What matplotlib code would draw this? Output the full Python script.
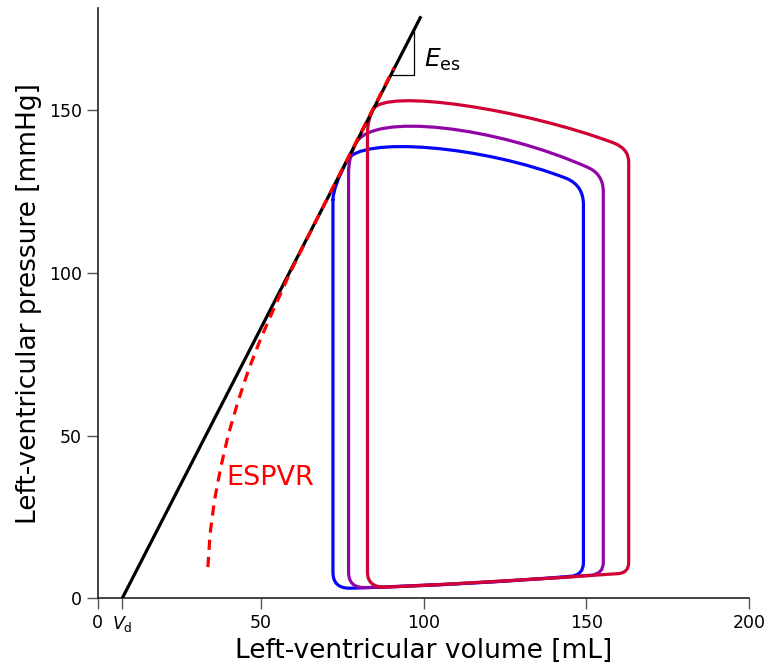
import matplotlib.pyplot as plt
from matplotlib.path import Path
from matplotlib.patches import PathPatch

# end-systolic elastance line
v_d = 7.5
e_es = 1.95
v_line_end = 99.0

# nonlinear end-systolic pressure-volume relation (dashed)
espvr_v = [33.8, 34.5, 35.8, 37.7, 40.0, 42.9, 46.2, 50.1, 54.5, 59.0, 69.0, 79.2, 90.9]
espvr_p = [9.6, 20, 30, 40, 50, 60, 70, 80, 90, 100, 120, 140, 163]

# PV loops as bezier vertices, counter-clockwise from the top of isovolumic relaxation
loop_blue_v = [72.2, 72.2, 72.2, 77.5, 115.0, 145.5, 149.1, 149.1, 149.1, 149.1, 144.0,
               118.5, 80.5, 76.5, 72.2, 72.2]
loop_blue_p = [122.5, 8.0, 3.0, 3.1, 4.2, 6.8, 7.2, 11.0, 121.0, 126.8, 129.0,
               139.0, 142.3, 134.5, 126.2, 122.5]

loop_purple_v = [77.0, 77.0, 77.0, 82.0, 118.0, 151.5, 155.2, 155.2, 155.2, 155.2, 150.5,
                 122.3, 84.2, 79.2, 77.0, 77.0]
loop_purple_p = [131.0, 8.0, 3.2, 3.3, 4.5, 7.1, 7.5, 11.0, 125.0, 130.3, 132.4,
                 145.0, 149.6, 139.8, 135.5, 131.0]

loop_red_v = [82.8, 82.8, 82.8, 88.0, 122.0, 160.0, 163.0, 163.0, 163.0, 163.0, 158.5,
              131.5, 88.0, 84.5, 82.8, 82.8]
loop_red_p = [143.0, 8.0, 3.5, 3.4, 4.9, 7.6, 7.9, 11.0, 134.0, 138.2, 139.9,
              150.1, 157.0, 150.2, 146.8, 143.0]

loop_colors = ['#0505f8', '#9006a4', '#d00035']

loop_codes = ([Path.MOVETO, Path.LINETO]
              + [Path.CURVE3] * 6
              + [Path.LINETO]
              + [Path.CURVE3] * 2
              + [Path.CURVE4] * 3
              + [Path.CURVE3] * 2)

# little slope triangle on the Ees line
tri_v = [90.0, 97.0, 97.0]
tri_p = [(90.0 - v_d) * e_es, (90.0 - v_d) * e_es, (97.0 - v_d) * e_es]

fig = plt.figure(figsize=(7.7, 6.7), dpi=100)
ax = fig.add_axes([0.127, 0.107, 0.846, 0.881])

loops = [(loop_blue_v, loop_blue_p), (loop_purple_v, loop_purple_p), (loop_red_v, loop_red_p)]
for (lv, lp), c in zip(loops, loop_colors):
    path = Path(list(zip(lv, lp)), loop_codes)
    ax.add_patch(PathPatch(path, facecolor='none', edgecolor=c, lw=2.3,
                           joinstyle='round', capstyle='round', zorder=2))

ax.plot([v_d, v_line_end], [0, (v_line_end - v_d) * e_es], color='black', lw=2.3, zorder=3)
ax.plot(espvr_v, espvr_p, color='red', lw=2.3, ls=(0, (3.2, 2.2)), zorder=4)
ax.plot(tri_v, tri_p, color='black', lw=0.9, zorder=3)

ax.text(100.3, 165.5, r'$E_\mathrm{es}$', fontsize=18, va='center', ha='left')
ax.text(39.5, 37.0, 'ESPVR', fontsize=19.5, color='red', va='center', ha='left')

ax.set_xlim(0, 200)
ax.set_ylim(0, 181.4)
ax.spines['top'].set_visible(False)
ax.spines['right'].set_visible(False)
for s in ['left', 'bottom']:
    ax.spines[s].set_linewidth(1.2)
    ax.spines[s].set_color('#222222')

ax.set_xticks([0, v_d, 50, 100, 150, 200])
ax.set_xticklabels(['0', r'$V_\mathrm{d}$', '50', '100', '150', '200'])
ax.set_yticks([0, 50, 100, 150])
ax.tick_params(labelsize=12.5, length=8, width=1, color='#555555')

ax.set_xlabel('Left-ventricular volume [mL]', fontsize=19, labelpad=3)
ax.set_ylabel('Left-ventricular pressure [mmHg]', fontsize=19, labelpad=5)

fig.savefig('out.png')
